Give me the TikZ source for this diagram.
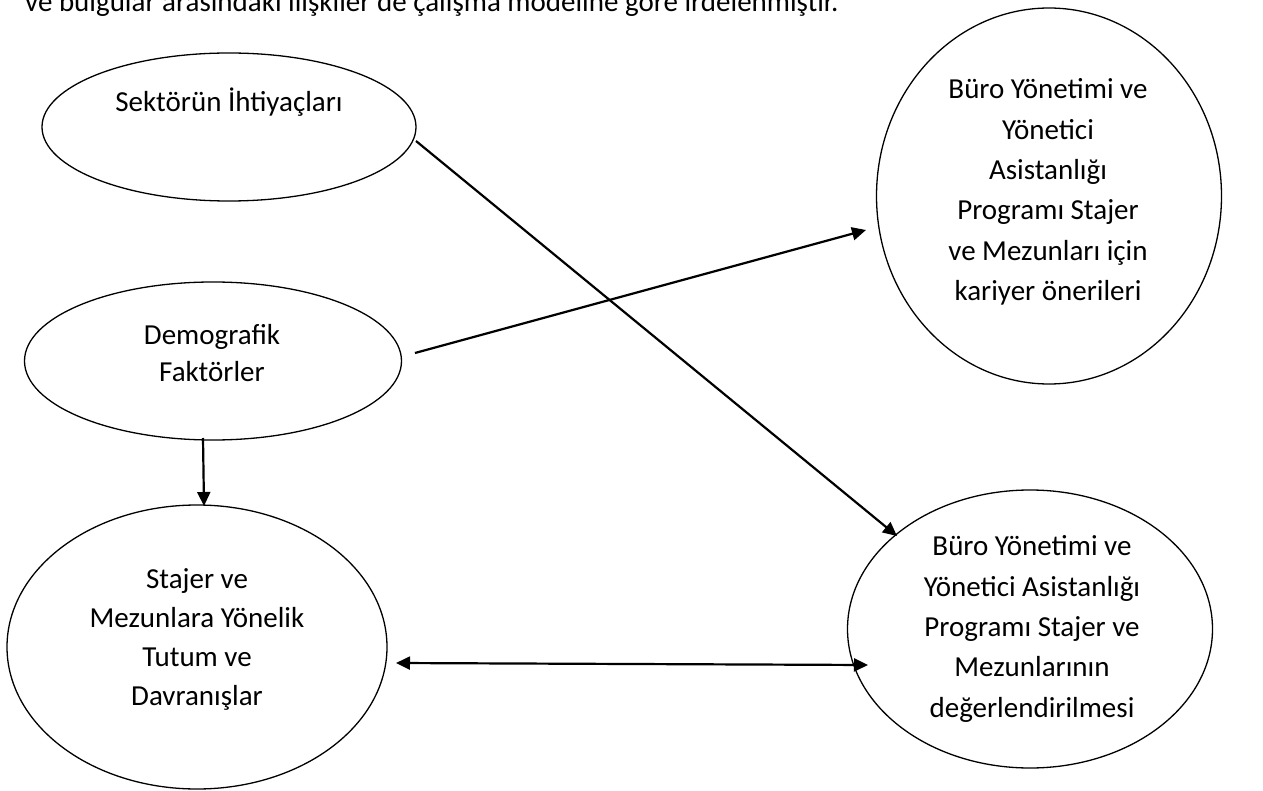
\documentclass[tikz,border=0pt]{standalone}
\usepackage{fontspec}
\setmainfont{Carlito}
\usetikzlibrary{shapes.geometric,arrows.meta}
\begin{document}
\begin{tikzpicture}[x=1pt,y=-1pt,
  oval/.style={draw,ellipse,line width=1.3pt,inner sep=0pt},
  lbl/.style={align=center,inner sep=0pt,font=\fontsize{29}{40.4}\selectfont},
  conn/.style={line width=2.2pt,-{Triangle[length=14pt,width=13pt]}},
  biconn/.style={line width=2.2pt,{Triangle[length=14pt,width=13pt]}-{Triangle[length=14pt,width=13pt]}}]
\useasboundingbox (0,0) rectangle (1263,791);
\clip (0,0) rectangle (1263,791);
\node[anchor=base west,inner sep=0pt,font=\fontsize{29}{35}\selectfont] (intro) at (25,12) {ve bulgular arasındaki ilişkiler de çalışma modeline göre irdelenmiştir.};
% ellipses
\node[oval,minimum width=374pt,minimum height=148pt] (sek) at (229,127) {};
\node[oval,minimum width=377pt,minimum height=158pt] (dem) at (213,361) {};
\node[oval,minimum width=380pt,minimum height=284pt] (taj) at (197,647) {};
\node[oval,minimum width=345pt,minimum height=376pt] (kar) at (1049,196) {};
\node[oval,minimum width=365pt,minimum height=278pt] (deg) at (1030,629) {};
% labels
\node[lbl] (sekT) at (229,102) {Sektörün İhtiyaçları};
\node[lbl,font=\fontsize{29}{37}\selectfont] (demT) at (212,353) {Demografik\\Faktörler};
\node[lbl,font=\fontsize{29}{39}\selectfont] (tajT) at (197,639) {Stajer ve\\Mezunlara Yönelik\\Tutum ve\\Davranışlar};
\node[lbl] (karT) at (1048,192) {Büro Yönetimi ve\\Yönetici\\Asistanlığı\\Programı Stajer\\ve Mezunları için\\kariyer önerileri};
\node[lbl] (degT) at (1032,629) {Büro Yönetimi ve\\Yönetici Asistanlığı\\Programı Stajer ve\\Mezunlarının\\değerlendirilmesi};
% connector end points
\coordinate (a1) at (416,141);
\coordinate (a2) at (897,536);
\coordinate (b1) at (415,353);
\coordinate (b2) at (866,230);
\coordinate (c1) at (203,438);
\coordinate (c2) at (204,506);
\coordinate (d1) at (396,663);
\coordinate (d2) at (868,665);
\draw[conn] (a1) -- (a2);
\draw[conn] (b1) -- (b2);
\draw[conn] (c1) -- (c2);
\draw[biconn] (d1) -- (d2);
\end{tikzpicture}
\end{document}
